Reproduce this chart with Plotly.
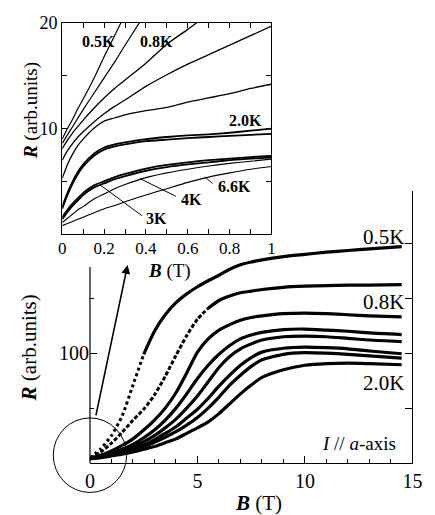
import plotly.graph_objects as go

W, H = 435, 515
FONT = "Liberation Serif"

# ---------------- main panel: R(B) sweeps, 0 - 14.5 T ----------------
b_main = [0, 0.5, 1, 1.5, 2, 2.5, 3, 3.5, 4, 4.5, 5, 5.5, 6, 6.5, 7, 7.5, 8, 9, 10, 11, 12, 13, 14.5]

r_main_1 = [4.5, 13, 25, 43, 71, 99, 120, 135, 146, 154, 160.5, 166, 171, 176.5, 180.5, 183, 185, 188, 190, 192, 193.5, 195, 197]
r_main_2 = [4.5, 10, 18, 28, 39, 49, 62, 79, 98, 116, 131, 141, 148, 152, 155, 156.5, 158, 160, 161, 161.5, 162, 162, 162.5]
r_main_3 = [4, 7, 11, 16, 22, 30, 39, 50, 64, 82, 101, 113, 121, 126, 130, 132.5, 134, 136, 136.5, 136, 135, 134, 133]
r_main_4 = [4, 6.5, 9, 12.5, 17, 23, 30, 39, 50, 63, 77, 89, 99, 107, 113, 116.5, 119, 121.5, 122, 121, 120, 118.5, 117]
r_main_5 = [4, 6, 8, 11, 15, 19.5, 25, 32, 40, 50, 61, 74, 87, 97, 104, 108.5, 112, 115, 115.5, 115, 113.5, 112, 110.5]
r_main_6 = [4, 5.5, 7.5, 10, 13, 16.5, 21, 27, 33, 41, 49, 59, 70, 80, 89, 96, 101, 104.5, 105.5, 105, 104, 102, 99.5]
r_main_7 = [4, 5.3, 7, 9.3, 12, 15, 19, 23.5, 28.5, 34.5, 41.5, 50, 60, 71, 80, 88, 94, 99, 100.5, 100, 99, 97.5, 95.5]
r_main_8 = [4, 5, 6.5, 8, 10, 12.5, 15, 18.5, 22, 27, 32, 37.5, 45, 54, 63, 71, 78, 85, 89, 90.5, 91, 90.5, 89.5]

main_labels = ["0.5K", "0.8K", "2.0K"]

# ---------------- inset: low-field part, 0 - 1 T ----------------
b_inset = [0, 0.025, 0.05, 0.075, 0.1, 0.15, 0.2, 0.25, 0.3, 0.4, 0.5, 0.6, 0.7, 0.8, 0.9, 1.0]

r_in_05K = [9.0, 10.0, 10.9, 11.9, 12.8, 14.7, 16.8, 18.8, 20.8, 24.7, None, None, None, None, None, None]
r_in_06K = [8.6, 9.4, 10.2, 11.0, 11.8, 13.3, 14.8, 16.3, 17.9, 21.0, None, None, None, None, None, None]
r_in_08K = [8.1, 8.9, 9.6, 10.2, 10.8, 11.9, 12.9, 13.8, 14.6, 16.2, 18.0, 19.4, 20.9, None, None, None]
r_in_10K = [7.0, 7.9, 8.6, 9.2, 9.7, 10.6, 11.4, 12.1, 12.7, 14.0, 15.1, 16.1, 17.0, 17.9, 18.8, 19.7]
r_in_12K = [5.3, 6.6, 7.6, 8.4, 9.0, 10.0, 10.7, 11.0, 11.3, 11.7, 12.0, 12.5, 12.9, 13.3, 13.8, 14.2]
r_in_18K = [2.6, 3.9, 5.0, 5.9, 6.6, 7.6, 8.2, 8.5, 8.7, 9.0, 9.2, 9.35, 9.45, 9.6, 9.8, 10.0]
r_in_20K = [2.4, 3.7, 4.8, 5.7, 6.4, 7.4, 8.0, 8.3, 8.5, 8.8, 8.95, 9.1, 9.2, 9.3, 9.4, 9.5]
r_in_25K = [1.6, 2.3, 2.9, 3.4, 3.9, 4.6, 5.0, 5.4, 5.7, 6.2, 6.55, 6.8, 7.0, 7.15, 7.3, 7.4]
r_in_3K = [1.4, 2.1, 2.7, 3.2, 3.7, 4.4, 4.8, 5.2, 5.5, 6.0, 6.35, 6.6, 6.8, 7.0, 7.15, 7.25]
r_in_4K = [1.1, 1.5, 1.9, 2.3, 2.6, 3.3, 3.8, 4.3, 4.7, 5.35, 5.8, 6.15, 6.45, 6.7, 6.9, 7.1]
r_in_66K = [0.8, 1.0, 1.2, 1.4, 1.6, 2.0, 2.4, 2.7, 3.07, 3.7, 4.3, 4.9, 5.4, 5.8, 6.15, 6.4]

inset_x_ticks = [0, 0.1, 0.2, 0.3, 0.4, 0.5, 0.6, 0.7, 0.8, 0.9, 1.0]
inset_x_text = ["0", "", "0.2", "", "0.4", "", "0.6", "", "0.8", "", "1"]
inset_y_ticks = [0, 5, 10, 15, 20]
inset_y_text = ["", "", "10", "", "20"]

# ---------------- layout geometry (pixels) ----------------
MX0, MX1, MY_BOT, MY_TOP = 88, 422, 462, 185
PX_PER_R = 1.12
IX0, IX1, IY_TOP, IY_BOT = 59.3, 276, 13.3, 228.5


def px(x):
    return x / W


def py(y):
    return 1 - y / H


fig = go.Figure()

line_main = dict(color="black", width=3.2, shape="spline", smoothing=0.6)

# 0.5K: sparse points on the steep rise, dense above
cut1 = 5
fig.add_trace(go.Scatter(x=b_main[:cut1 + 1], y=r_main_1[:cut1 + 1], mode="lines",
                         line=dict(line_main, dash="dot", width=3), xaxis="x", yaxis="y"))
fig.add_trace(go.Scatter(x=b_main[cut1:], y=r_main_1[cut1:], mode="lines",
                         line=line_main, xaxis="x", yaxis="y"))
cut2 = 11
fig.add_trace(go.Scatter(x=b_main[:cut2 + 1], y=r_main_2[:cut2 + 1], mode="lines",
                         line=dict(line_main, dash="4px,2px", width=3), xaxis="x", yaxis="y"))
fig.add_trace(go.Scatter(x=b_main[cut2:], y=r_main_2[cut2:], mode="lines",
                         line=line_main, xaxis="x", yaxis="y"))
for r in (r_main_3, r_main_4, r_main_5, r_main_6, r_main_7, r_main_8):
    fig.add_trace(go.Scatter(x=b_main, y=r, mode="lines", line=line_main, xaxis="x", yaxis="y"))

# empty trace so the right-hand tick axis gets drawn
fig.add_trace(go.Scatter(x=[None], y=[None], mode="lines", xaxis="x", yaxis="y3"))

inset_curves = [
    (r_in_05K, 1.2), (r_in_06K, 1.2), (r_in_08K, 1.3),
    (r_in_10K, 1.3), (r_in_12K, 1.3), (r_in_18K, 1.8),
    (r_in_20K, 1.8), (r_in_25K, 1.8), (r_in_3K, 1.8),
    (r_in_4K, 1.1), (r_in_66K, 1.1),
]
for r, w in inset_curves:
    fig.add_trace(go.Scatter(x=b_inset, y=r, mode="lines",
                             line=dict(color="black", width=w, shape="spline", smoothing=0.6),
                             xaxis="x2", yaxis="y2", connectgaps=False))

y_top_val = (MY_BOT - MY_TOP) / PX_PER_R
tick_common = dict(tickcolor="black", tickwidth=1.1, showgrid=False, zeroline=False)

fig.update_layout(
    width=W, height=H, margin=dict(l=0, r=0, t=0, b=0),
    paper_bgcolor="white", plot_bgcolor="white", showlegend=False,
    font=dict(family=FONT, size=20, color="black"),
    xaxis=dict(domain=[px(MX0), px(MX1)], range=[0, 15], anchor="y",
               showline=True, linecolor="black", linewidth=1.2,
               ticks="inside", ticklen=7, tickvals=[0, 5, 10, 15],
               minor=dict(ticks="inside", ticklen=4, dtick=1, tickcolor="black", tickwidth=1.1),
               tickfont=dict(size=20), **tick_common),
    yaxis=dict(domain=[py(MY_BOT), py(MY_TOP)], range=[0, y_top_val], anchor="x",
               showline=False, ticks="inside", ticklen=7, tickvals=[100], ticktext=["100"],
               minor=dict(ticks="inside", ticklen=4, tickvals=[50, 150], tickcolor="black", tickwidth=1.1),
               tickfont=dict(size=20), **tick_common),
    yaxis3=dict(overlaying="y", side="right", range=[0, y_top_val], anchor="x",
                showline=True, linecolor="black", linewidth=1.2,
                ticks="inside", ticklen=7, tickvals=[50, 100, 150, 200], showticklabels=False,
                **tick_common),
    xaxis2=dict(domain=[px(IX0), px(IX1)], range=[0, 1], anchor="y2",
                showline=True, linecolor="black", linewidth=1.2, mirror="allticks",
                ticks="inside", ticklen=5, tickvals=inset_x_ticks, ticktext=inset_x_text,
                tickfont=dict(size=17), ticklabelstandoff=-2, **tick_common),
    yaxis2=dict(domain=[py(IY_BOT), py(IY_TOP)], range=[0, 20], anchor="x2",
                showline=True, linecolor="black", linewidth=1.2, mirror="allticks",
                ticks="inside", ticklen=5, tickvals=inset_y_ticks, ticktext=inset_y_text,
                tickfont=dict(size=18), **tick_common),
)

shapes = [
    # left spine of the main panel, below the inset
    dict(type="line", xref="paper", yref="paper", x0=px(MX0), x1=px(MX0),
         y0=py(262), y1=py(MY_BOT), line=dict(color="black", width=1.2)),
    # circle marking the low-field region
    dict(type="circle", xref="paper", yref="paper", x0=px(50), x1=px(126),
         y0=py(492), y1=py(416), line=dict(color="black", width=1)),
    # leader lines in the inset
    dict(type="line", xref="x2", yref="y2", x0=0.179, y0=4.69, x1=0.382, y1=1.72,
         line=dict(color="black", width=1)),
    dict(type="line", xref="x2", yref="y2", x0=0.372, y0=5.25, x1=0.543, y1=3.58,
         line=dict(color="black", width=1)),
    dict(type="line", xref="x2", yref="y2", x0=0.681, y0=5.44, x1=0.718, y1=4.79,
         line=dict(color="black", width=1)),
]
fig.update_layout(shapes=shapes)


def label(x, y, text, size, bold=False, angle=0, anchor="center"):
    t = "<b>%s</b>" % text if bold else text
    fig.add_annotation(x=px(x), y=py(y), xref="paper", yref="paper", text=t, showarrow=False,
                       textangle=angle, xanchor=anchor, yanchor="middle",
                       font=dict(family=FONT, size=size, color="black"))


# axis titles
label(263, 503, "<b><i>B</i></b> (T)", 21)
label(25, 345, "<b><i>R</i></b> (arb.units)", 21, angle=-90)
label(170, 266, "<b><i>B</i></b> (T)", 19)
label(27, 103, "<b><i>R</i></b> (arb.units)", 19, angle=-90)

# temperature labels, main panel
label(392, 231, main_labels[0], 21)
label(392, 298, main_labels[1], 21)
label(392, 380, main_labels[2], 21)
label(367, 442, "<i>I</i> // <i>a</i>-axis", 19)

# temperature labels, inset
label(97, 32, "0.5K", 16, bold=True)
label(157, 32, "0.8K", 16, bold=True)
label(249, 113, "2.0K", 16, bold=True)
label(238, 180, "6.6K", 16, bold=True)
label(193, 193, "4K", 16, bold=True)
label(157, 213, "3K", 16, bold=True)

# arrow from the circled region up to the inset
fig.add_annotation(x=px(127), y=py(260), xref="paper", yref="paper", text="",
                   showarrow=True, ax=-32, ay=152, arrowhead=2, arrowsize=1.1,
                   arrowwidth=1.6, arrowcolor="black")

fig.write_html("out.html")
